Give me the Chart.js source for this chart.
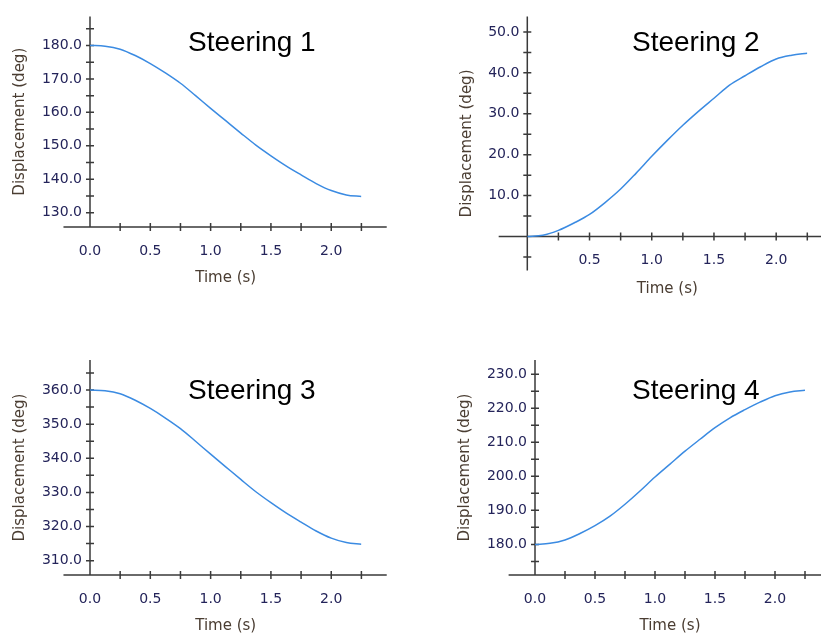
<!DOCTYPE html>
<html lang="en">
<head>
  <meta charset="UTF-8" />
  <title>Steering Displacement</title>
  <script src="https://cdn.jsdelivr.net/npm/chart.js@4.4.1/dist/chart.umd.min.js"></script>
  <style>
    body {
      margin: 0;
      width: 821px;
      height: 639px;
      background: #ffffff;
      position: relative;
      overflow: hidden;
    }
    canvas {
      position: absolute;
    }
    .panel-title {
      position: absolute;
      font-family: 'Liberation Sans', Arial, sans-serif;
      font-size: 28px;
      line-height: 28px;
      color: #000;
      white-space: nowrap;
    }
  </style>
</head>
<body>
  <canvas id="steer1" width="410" height="300" style="left:0px;top:0px"></canvas>
  <canvas id="steer2" width="381" height="311" style="left:440px;top:0px"></canvas>
  <canvas id="steer3" width="410" height="308" style="left:0px;top:340px"></canvas>
  <canvas id="steer4" width="381" height="308" style="left:440px;top:340px"></canvas>

  <div class="panel-title" style="left:188px;top:28px">Steering 1</div>
  <div class="panel-title" style="left:632px;top:28px">Steering 2</div>
  <div class="panel-title" style="left:188px;top:376px">Steering 3</div>
  <div class="panel-title" style="left:632px;top:376px">Steering 4</div>

  <script>
    // time samples (s)
    const time = [0, 0.125, 0.25, 0.375, 0.5, 0.625, 0.75, 0.875, 1.0, 1.125,
                  1.25, 1.375, 1.5, 1.625, 1.75, 1.875, 2.0, 2.125, 2.25];

    // displacement (deg)
    const steering1 = [180.0, 179.8, 178.9, 177.0, 174.6, 171.8, 168.7, 165.0, 161.2, 157.5,
                       153.8, 150.2, 147.0, 144.0, 141.3, 138.7, 136.6, 135.3, 134.8];
    const steering2 = [0.0, 0.3, 1.5, 3.3, 5.4, 8.3, 11.6, 15.5, 19.6, 23.5,
                       27.2, 30.6, 33.8, 37.0, 39.3, 41.5, 43.4, 44.3, 44.8];
    const steering3 = [360.0, 359.8, 358.9, 357.0, 354.6, 351.8, 348.7, 345.0, 341.2, 337.5,
                       333.8, 330.2, 327.0, 324.0, 321.3, 318.7, 316.6, 315.3, 314.8];
    const steering4 = [180.0, 180.3, 181.3, 183.2, 185.5, 188.3, 191.8, 195.7, 199.8, 203.6,
                       207.4, 210.9, 214.3, 217.2, 219.6, 221.8, 223.7, 224.8, 225.3];

    const xMinorStep = 0.25;   // tick marks every 0.25 s, labels every 0.5 s
    const yMinorStep = 5;      // tick marks every 5 deg, labels every 10 deg

    const AXIS_COLOR = '#3a3a3a';
    const LINE_COLOR = '#3b8be2';
    const TICK_COLOR = '#24245a';
    const TITLE_COLOR = '#4a3d32';

    // draws the axis lines (with their overhang) and the crossing tick marks
    const axisFrame = {
      id: 'axisFrame',
      beforeDatasetsDraw(chart, args, o) {
        const { ctx } = chart;
        const xs = chart.scales.x;
        const ys = chart.scales.y;
        const px0 = xs.getPixelForValue(0);
        const pyBase = ys.getPixelForValue(o.yBase);
        const half = 4;
        ctx.save();
        ctx.strokeStyle = AXIS_COLOR;
        ctx.lineWidth = 1.5;
        ctx.beginPath();
        ctx.moveTo(xs.getPixelForValue(o.xFrom), pyBase);
        ctx.lineTo(xs.getPixelForValue(o.xTo), pyBase);
        ctx.moveTo(px0, ys.getPixelForValue(ys.min));
        ctx.lineTo(px0, ys.getPixelForValue(ys.max));
        for (let k = Math.ceil(o.xFrom / xMinorStep); k * xMinorStep <= o.xTo; k++) {
          if (k === 0) continue;
          const px = xs.getPixelForValue(k * xMinorStep);
          ctx.moveTo(px, pyBase - half);
          ctx.lineTo(px, pyBase + half);
        }
        for (let k = Math.ceil(ys.min / yMinorStep); k * yMinorStep <= ys.max; k++) {
          if (k * yMinorStep === o.yBase) continue;
          const py = ys.getPixelForValue(k * yMinorStep);
          ctx.moveTo(px0 - half, py);
          ctx.lineTo(px0 + half, py);
        }
        ctx.stroke();
        ctx.restore();
      }
    };

    function isMultiple(v, step) {
      return Math.abs(v / step - Math.round(v / step)) < 1e-6;
    }

    function makePanel(id, values, p) {
      const points = time.map((t, i) => ({ x: t, y: values[i] }));
      const canvas = document.getElementById(id);
      return new Chart(canvas.getContext('2d'), {
        type: 'line',
        data: {
          datasets: [{
            data: points,
            borderColor: LINE_COLOR,
            borderWidth: 1.5,
            pointRadius: 0,
            fill: false,
            cubicInterpolationMode: 'monotone'
          }]
        },
        options: {
          responsive: false,
          animation: false,
          layout: {
            autoPadding: false,
            padding: { left: 0, top: p.padTop, right: p.padRight, bottom: 0 }
          },
          plugins: {
            legend: { display: false },
            tooltip: { enabled: false },
            axisFrame: { xFrom: p.xFrom, xTo: p.xTo, yBase: p.yBase }
          },
          scales: {
            x: {
              type: 'linear',
              position: 'bottom',
              min: 0,
              max: 2.25,
              grid: { display: false, drawTicks: false },
              border: { display: false },
              afterFit: (s) => { s.height = p.xHeight; },
              ticks: {
                stepSize: xMinorStep,
                includeBounds: false,
                autoSkip: false,
                maxRotation: 0,
                // mirrored labels sit inside the plot, just under a zero line
                mirror: p.xMirror,
                padding: p.xLabelPad,
                color: TICK_COLOR,
                font: { family: 'DejaVu Sans', size: 14 },
                callback: (v) => (isMultiple(v, 0.5) && !(p.hideZero && v === 0)) ? v.toFixed(1) : ''
              },
              title: {
                display: true,
                text: 'Time (s)',
                color: TITLE_COLOR,
                font: { family: 'DejaVu Sans', size: 15 },
                padding: { top: 0, bottom: 13 }
              }
            },
            y: {
              type: 'linear',
              position: 'left',
              min: p.yMin,
              max: p.yMax,
              grid: { display: false, drawTicks: false },
              border: { display: false },
              afterFit: (s) => { s.width = p.yWidth; },
              ticks: {
                stepSize: yMinorStep,
                includeBounds: false,
                autoSkip: false,
                padding: 8,
                color: TICK_COLOR,
                font: { family: 'DejaVu Sans', size: 14 },
                callback: (v) => (isMultiple(v, 10) && !(p.hideZero && v === 0)) ? v.toFixed(1) : ''
              },
              title: {
                display: true,
                text: 'Displacement (deg)',
                color: TITLE_COLOR,
                font: { family: 'DejaVu Sans', size: 15 },
                padding: { top: p.yTitlePad, bottom: 0 }
              }
            }
          }
        },
        plugins: [axisFrame]
      });
    }

    makePanel('steer1', steering1, {
      yMin: 125.7, yMax: 188.7, yBase: 125.7, xFrom: -0.22, xTo: 2.46, xMirror: false, xLabelPad: 16,
      yWidth: 90, xHeight: 73, padTop: 12, padRight: 48.6, yTitlePad: 11, hideZero: false
    });
    // x axis crosses at 0 here, the y axis runs on below it
    makePanel('steer2', steering2, {
      yMin: -8.3, yMax: 53.8, yBase: 0, xFrom: -0.23, xTo: 2.36, xMirror: true, xLabelPad: 2,
      yWidth: 87.3, xHeight: 40.5, padTop: 11.7, padRight: 13.7, yTitlePad: 17.7, hideZero: true
    });
    makePanel('steer3', steering3, {
      yMin: 305.8, yMax: 368.8, yBase: 305.8, xFrom: -0.22, xTo: 2.46, xMirror: false, xLabelPad: 16,
      yWidth: 90, xHeight: 73, padTop: 20, padRight: 48.6, yTitlePad: 11, hideZero: false
    });
    makePanel('steer4', steering4, {
      yMin: 171.0, yMax: 234.2, yBase: 171.0, xFrom: -0.22, xTo: 2.4, xMirror: false, xLabelPad: 16,
      yWidth: 95, xHeight: 73, padTop: 20, padRight: 16, yTitlePad: 16.5, hideZero: false
    });
  </script>
</body>
</html>
